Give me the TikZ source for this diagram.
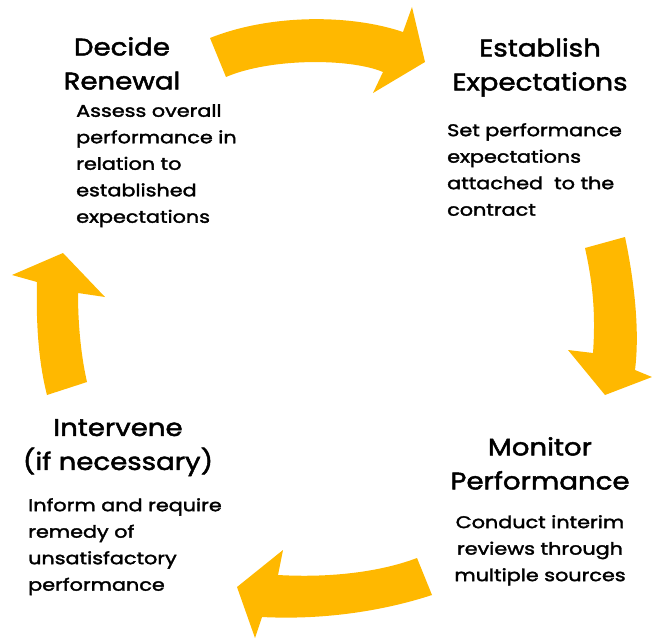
\documentclass[tikz,border=0pt]{standalone}
\usepackage{fontspec}
\setmainfont{Poppins}
\newfontfamily\tfont{Poppins}[FakeBold=2, FakeStretch=1.15]
\newfontfamily\bfont{Poppins}[FakeBold=2, FakeStretch=1.22]
\definecolor{arrowyellow}{RGB}{255,184,0}
\tikzset{
  cyclearrow/.style={fill=arrowyellow, draw=none},
  titletext/.style={inner sep=0pt, align=center, anchor=north, font=\tfont\fontsize{24}{34}\selectfont},
  bodytext/.style={inner sep=0pt, font=\bfont\fontsize{17}{26.5}\selectfont}
}
\begin{document}
\begin{tikzpicture}[x=1pt,y=-1pt]
\useasboundingbox (0,0) rectangle (652,642);
% top arrow
\fill[cyclearrow] (210,38) .. controls (270,14) and (350,14) .. (403,32)
  -- (412,7) -- (425,62) -- (373,93) -- (383,72)
  .. controls (350,58) and (270,58) .. (226,77) -- cycle;
% right arrow
\fill[cyclearrow] (585,248) -- (625,237) .. controls (634,280) and (640,330) .. (635,370)
  -- (652,377) -- (605,395) -- (568,350) -- (593,353)
  .. controls (596,310) and (592,280) .. (585,248) -- cycle;
% bottom arrow
\fill[cyclearrow] (417,558) -- (432,595) .. controls (380,612) and (320,620) .. (262,617)
  -- (255,638) -- (237,587) -- (283,550) -- (278,575)
  .. controls (330,578) and (380,572) .. (417,558) -- cycle;
% left arrow
\fill[cyclearrow] (47,395) .. controls (38,360) and (36,320) .. (37,282)
  -- (12,275) -- (63,253) -- (105,297) -- (78,293)
  .. controls (78,330) and (82,360) .. (87,382) -- cycle;
% texts
\node[titletext] (t1) at (122,37) {Decide\\Renewal};
\node[bodytext, anchor=north west, align=left] (b1) at (76,104) {Assess overall\\performance in\\relation to\\established\\expectations};
\node[titletext] (t2) at (540,38) {Establish\\Expectations};
\node[bodytext, anchor=north west, align=left] (b2) at (447,123) {Set performance\\expectations\\attached~ to the\\contract};
\node[titletext] (t3) at (540,437) {Monitor\\Performance};
\node[bodytext, anchor=north, align=center] (b3) at (540,515) {Conduct interim\\reviews through\\multiple sources};
\node[titletext] (t4) at (118,419) {Intervene\\(if necessary)};
\node[bodytext, anchor=north west, align=left] (b4) at (28,498) {Inform and require\\remedy of\\unsatisfactory\\performance};
\end{tikzpicture}
\end{document}
